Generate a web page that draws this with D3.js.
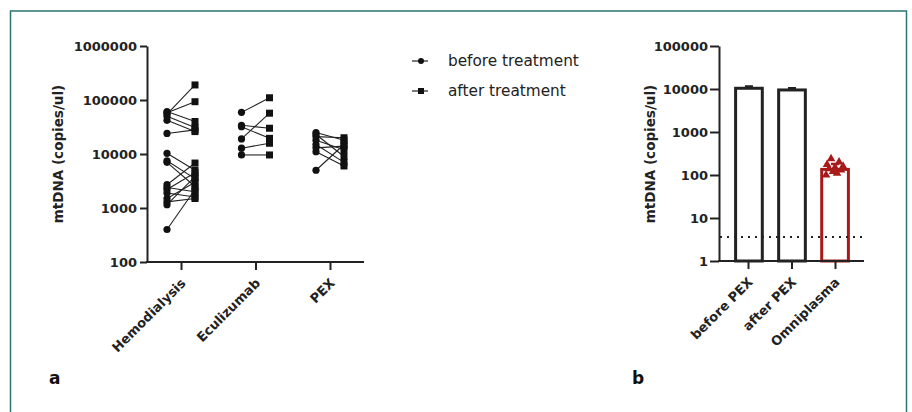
<!doctype html>
<html lang="en">
<head>
	<meta charset="UTF-8">
	<title>mtDNA copies</title>
	<style>
		body { margin: 0; background: #fff; }
		svg { display: block; font-family: "DejaVu Sans", Arial, sans-serif; }
		.axis path, .axis line { stroke: #222; stroke-width: 2; }
		.axis text { font-family: "DejaVu Sans", sans-serif; font-size: 13px; font-weight: bold; fill: #222; }
		.axis .cat text { font-size: 12.5px; }
		.pair { stroke: #222; stroke-width: 1.1; fill: none; }
	</style>
</head>
<body>
	<script src="https://cdn.jsdelivr.net/npm/d3@7"></script>
	<script>
		// panel a: paired values, before -> after treatment
		var groups = ['Hemodialysis', 'Eculizumab', 'PEX'];
		var hemoBefore = [55000, 58000, 61000, 50000, 42000, 24000, 10300, 7500, 7000, 2700, 2400, 2200, 1900, 1500, 1300, 1150, 400];
		var hemoAfter  = [190000, 93000, 40000, 31000, 26000, 28000, 5000, 3500, 2500, 6800, 2000, 4500, 1600, 3000, 1500, 3800, 2200];
		var ecuBefore = [59000, 34000, 32000, 19000, 12800, 9600];
		var ecuAfter  = [110000, 30000, 19500, 57000, 15800, 9600];
		var pexBefore = [25000, 23000, 21000, 18000, 15000, 13000, 11000, 5000];
		var pexAfter  = [18000, 9000, 20000, 12000, 7000, 14000, 6000, 15000];
		var leftTicks = [100, 1000, 10000, 100000, 1000000];

		// panel b: bar means with SD, omniplasma single values
		var barNames = ['before PEX', 'after PEX', 'Omniplasma'];
		var barMeans = [10400, 9500, 135];
		var barErrors = [1000, 900, 45];
		var omniValues = [240, 200, 175, 160, 150, 140, 130, 120, 110, 100];
		var detectionLimit = 3.6;
		var rightTicks = [1, 10, 100, 1000, 10000, 100000];

		var W = 912, H = 412;
		var svg = d3.select('body').append('svg').attr('width', W).attr('height', H);

		// frame
		svg.append('rect')
			.attr('x', 10.5).attr('y', 11)
			.attr('width', 896).attr('height', 430)
			.attr('fill', 'none')
			.attr('stroke', '#2b7571')
			.attr('stroke-width', 1.5);

		var fmt = function(d) { return String(d); };

		// rotate category labels like the original
		var slantLabels = function(axisG) {
			axisG.classed('cat', true);
			axisG.selectAll('text')
				.attr('text-anchor', 'end')
				.attr('dy', null).attr('y', 0)
				.attr('transform', 'translate(5,22) rotate(-45)');
		};

		// ====== panel a
		var yA = d3.scaleLog().domain([100, 1000000]).range([262, 46]);
		var xA = d3.scalePoint().domain(groups).range([181, 330]);
		var offset = 14;

		svg.append('g').attr('class', 'axis')
			.attr('transform', 'translate(147,0)')
			.call(d3.axisLeft(yA).tickValues(leftTicks).tickFormat(fmt).tickSize(7).tickSizeOuter(0).tickPadding(3));

		var xAxisA = svg.append('g').attr('class', 'axis')
			.attr('transform', 'translate(0,262)')
			.call(d3.axisBottom(xA).tickSize(8).tickSizeOuter(0));
		xAxisA.select('.domain').attr('d', 'M146,0H364');
		slantLabels(xAxisA);

		svg.append('text')
			.attr('transform', 'translate(63,154) rotate(-90)')
			.attr('text-anchor', 'middle')
			.attr('font-size', 13.5).attr('font-weight', 'bold').attr('fill', '#222')
			.text('mtDNA (copies/ul)');

		var pairSets = [
			{ name: groups[0], before: hemoBefore, after: hemoAfter },
			{ name: groups[1], before: ecuBefore, after: ecuAfter },
			{ name: groups[2], before: pexBefore, after: pexAfter }
		];

		pairSets.forEach(function(set) {
			var bx = xA(set.name) - offset, ax = xA(set.name) + offset;
			var g = svg.append('g');
			var pairs = set.before.map(function(b, i) { return [b, set.after[i]]; });

			g.selectAll('line').data(pairs).enter().append('line')
				.attr('class', 'pair')
				.attr('x1', bx).attr('x2', ax)
				.attr('y1', function(d) { return yA(d[0]); })
				.attr('y2', function(d) { return yA(d[1]); });

			g.selectAll('circle').data(set.before).enter().append('circle')
				.attr('cx', bx).attr('cy', function(d) { return yA(d); })
				.attr('r', 3.6).attr('fill', '#111');

			g.selectAll('rect').data(set.after).enter().append('rect')
				.attr('x', ax - 3.5).attr('y', function(d) { return yA(d) - 3.5; })
				.attr('width', 7).attr('height', 7).attr('fill', '#111');
		});

		// legend
		var legend = [{ label: 'before treatment', shape: 'circle' }, { label: 'after treatment', shape: 'square' }];
		var lg = svg.selectAll('.legend').data(legend).enter().append('g')
			.attr('class', 'legend')
			.attr('transform', function(d, i) { return 'translate(0,' + (61 + i * 30) + ')'; });
		lg.append('line').attr('x1', 412).attr('x2', 428).attr('y1', 0).attr('y2', 0)
			.attr('stroke', '#222').attr('stroke-width', 1.2);
		lg.each(function(d) {
			var s = d3.select(this);
			if (d.shape === 'circle') {
				s.append('circle').attr('cx', 421).attr('cy', 0).attr('r', 3).attr('fill', '#111');
			} else {
				s.append('rect').attr('x', 418).attr('y', -3).attr('width', 6).attr('height', 6).attr('fill', '#111');
			}
		});
		lg.append('text').attr('x', 448).attr('y', 5)
			.attr('font-size', 15.3).attr('fill', '#222')
			.text(function(d) { return d.label; });

		// ====== panel b
		var yB = d3.scaleLog().domain([1, 100000]).range([261, 46]);
		var xB = d3.scaleBand().domain(barNames).range([727, 857]).paddingInner(0.38).paddingOuter(0.2);
		var barColors = ['#222', '#222', '#a81a1a'];

		svg.append('g').attr('class', 'axis')
			.attr('transform', 'translate(719,0)')
			.call(d3.axisLeft(yB).tickValues(rightTicks).tickFormat(fmt).tickSize(9).tickSizeOuter(0).tickPadding(2));

		var bars = svg.append('g');
		bars.selectAll('rect').data(barMeans).enter().append('rect')
			.attr('x', function(d, i) { return xB(barNames[i]); })
			.attr('y', function(d) { return yB(d); })
			.attr('width', xB.bandwidth())
			.attr('height', function(d) { return yB(1) - yB(d); })
			.attr('fill', '#fff')
			.attr('stroke', function(d, i) { return barColors[i]; })
			.attr('stroke-width', 3);

		// error bars (upper)
		bars.selectAll('.err').data(barMeans).enter().append('path')
			.attr('class', 'err')
			.attr('d', function(d, i) {
				var cx = xB(barNames[i]) + xB.bandwidth() / 2, top = yB(d + barErrors[i]);
				return 'M' + cx + ',' + yB(d) + 'V' + top + 'M' + (cx - 4) + ',' + top + 'H' + (cx + 4);
			})
			.attr('stroke', function(d, i) { return barColors[i]; })
			.attr('stroke-width', 2.5).attr('fill', 'none');

		// omniplasma single values
		var ox = xB('Omniplasma') + xB.bandwidth() / 2;
		var jitter = [-4, 4, -8, 8, 0, -6, 6, -2, 2, -9];
		svg.append('g').selectAll('path').data(omniValues).enter().append('path')
			.attr('d', d3.symbol().type(d3.symbolTriangle).size(32))
			.attr('transform', function(d, i) { return 'translate(' + (ox + jitter[i]) + ',' + yB(d) + ')'; })
			.attr('fill', '#a81a1a');

		var xAxisB = svg.append('g').attr('class', 'axis')
			.attr('transform', 'translate(0,261)')
			.call(d3.axisBottom(d3.scalePoint().domain(barNames).range([748, 835])).tickSize(8).tickSizeOuter(0));
		xAxisB.select('.domain').attr('d', 'M718,0H864');
		slantLabels(xAxisB);

		// detection limit
		svg.append('line')
			.attr('x1', 720).attr('x2', 864)
			.attr('y1', yB(detectionLimit)).attr('y2', yB(detectionLimit))
			.attr('stroke', '#222').attr('stroke-width', 2)
			.attr('stroke-dasharray', '2,5');

		svg.append('text')
			.attr('transform', 'translate(655,154) rotate(-90)')
			.attr('text-anchor', 'middle')
			.attr('font-size', 13.5).attr('font-weight', 'bold').attr('fill', '#222')
			.text('mtDNA (copies/ul)');

		// panel letters
		svg.append('text').attr('x', 49).attr('y', 384)
			.attr('font-size', 17).attr('font-weight', 'bold').attr('fill', '#111').text('a');
		svg.append('text').attr('x', 632).attr('y', 384)
			.attr('font-size', 17).attr('font-weight', 'bold').attr('fill', '#111').text('b');
	</script>
</body>
</html>
